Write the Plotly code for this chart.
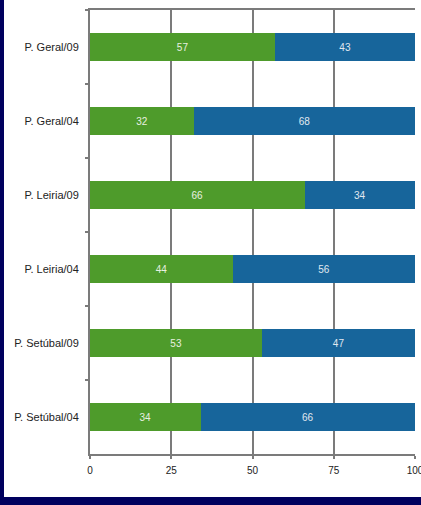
import plotly.graph_objects as go

categories = ["P. Geral/09", "P. Geral/04", "P. Leiria/09", "P. Leiria/04",
              "P. Setúbal/09", "P. Setúbal/04"]
green_values = [57, 32, 66, 44, 53, 34]
blue_values = [43, 68, 34, 56, 47, 66]
x_ticks = [0, 25, 50, 75, 100]

GREEN = "#4e9b2b"
BLUE = "#17659b"
NAVY = "#00005e"
GRID = "#7b7b7b"

fig = go.Figure()
fig.add_trace(go.Bar(
    y=categories, x=green_values, orientation="h",
    marker=dict(color=GREEN, line=dict(width=0)),
    text=[str(v) for v in green_values], textposition="inside",
    insidetextanchor="middle",
    textfont=dict(color="#e8f0e0", size=10, family="Liberation Sans"),
))
fig.add_trace(go.Bar(
    y=categories, x=blue_values, orientation="h",
    marker=dict(color=BLUE, line=dict(width=0)),
    text=[str(v) for v in blue_values], textposition="inside",
    insidetextanchor="middle",
    textfont=dict(color="#e0e8f0", size=10, family="Liberation Sans"),
))

W, H = 421, 505
ml, mr, mt, mb = 90, 6, 10, 51
pw, ph = W - ml - mr, H - mt - mb

def px_x(px):
    return (px - ml) / pw

def px_y(py):
    return (H - mb - py) / ph

fig.update_layout(
    width=W, height=H,
    margin=dict(l=ml, r=mr, t=mt, b=mb, pad=0),
    barmode="stack", bargap=0.61,
    showlegend=False,
    paper_bgcolor="white", plot_bgcolor="white",
    font=dict(family="Liberation Sans", size=10, color="#222222"),
    xaxis=dict(
        range=[0, 100], tickvals=x_ticks, ticktext=[str(t) for t in x_ticks],
        showgrid=True, gridcolor=GRID, gridwidth=2,
        showline=True, linecolor=GRID, linewidth=2, mirror=True,
        ticks="outside", ticklen=3, tickcolor=GRID, tickwidth=2,
        ticklabelstandoff=3, ticklabeloverflow="allow", automargin=False,
        zeroline=False, tickfont=dict(size=10, color="#222222"),
    ),
    yaxis=dict(
        autorange="reversed", type="category", automargin=False,
        showgrid=False, showline=True, linecolor=GRID, linewidth=2,
        ticks="outside", tickson="boundaries", ticklen=3,
        tickcolor=GRID, tickwidth=2, ticklabelstandoff=7,
        tickfont=dict(size=11, color="#222222"),
    ),
    shapes=[
        dict(type="rect", xref="paper", yref="paper",
             x0=px_x(0), x1=px_x(4), y0=px_y(H), y1=px_y(0),
             fillcolor=NAVY, line=dict(width=0), layer="above"),
        dict(type="rect", xref="paper", yref="paper",
             x0=px_x(0), x1=px_x(W), y0=px_y(H), y1=px_y(497),
             fillcolor=NAVY, line=dict(width=0), layer="above"),
    ],
)

fig.write_html("out.html")
